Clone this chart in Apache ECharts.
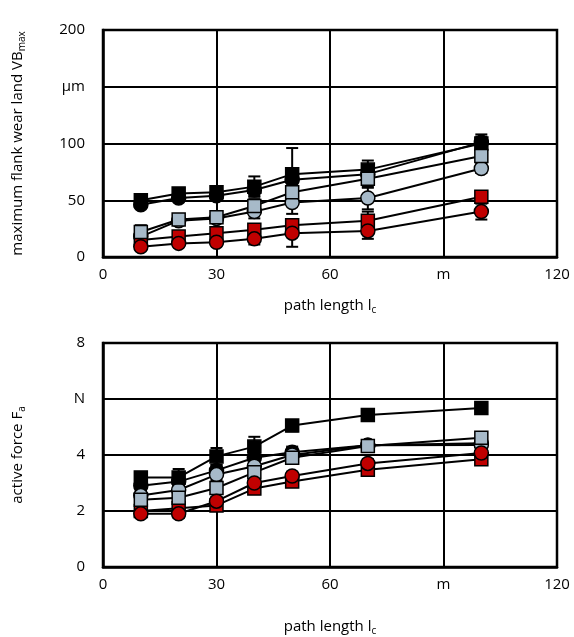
<!DOCTYPE html>
<html>
<head>
<meta charset="utf-8">
<script src="https://cdn.jsdelivr.net/npm/echarts@6/dist/echarts.min.js"></script>
<style>
  html, body { margin: 0; padding: 0; background: #fff; }
  #chart { width: 574px; height: 637px; }
</style>
</head>
<body>
<div id="chart"></div>
<script>
  // path length in m
  var pathLength = [10, 20, 30, 40, 50, 70, 100]

  // top: maximum flank wear land VBmax in µm
  var vbBlackSq = [50, 56, 57, 62, 73, 77, 100]
  var vbBlackCi = [46, 52, 54, 59, 68, 73, 101]
  var vbGraySq = [22, 33, 35, 45, 57, 69, 89]
  var vbGrayCi = [18, 32, 34, 40, 48, 52, 78]
  var vbRedSq = [15, 18, 21, 24, 28, 32, 53]
  var vbRedCi = [9, 12, 13, 16, 21, 23, 40]

  var vbBlackSqErr = [3, 4, 4, 9, 23, 8, 6]
  var vbBlackCiErr = [3, 3, 3, 5, 10, 5, 7]
  var vbGraySqErr = [6, 3, 4, 6, 8, 8, 4]
  var vbGrayCiErr = [3, 3, 4, 6, 10, 10, 4]
  var vbRedSqErr = [3, 3, 3, 3, 4, 8, 4]
  var vbRedCiErr = [3, 3, 3, 5, 12, 7, 7]

  // bottom: active force Fa in N
  var faBlackSq = [3.2, 3.2, 3.95, 4.3, 5.05, 5.43, 5.68]
  var faBlackCi = [2.9, 3.05, 3.45, 3.9, 4.1, 4.35, 4.42]
  var faGraySq = [2.4, 2.47, 2.82, 3.38, 3.9, 4.32, 4.62]
  var faGrayCi = [2.55, 2.75, 3.3, 3.6, 4.0, 4.35, 4.36]
  var faRedSq = [2.0, 2.1, 2.2, 2.8, 3.05, 3.47, 3.85]
  var faRedCi = [1.9, 1.9, 2.35, 3.0, 3.25, 3.7, 4.07]

  var faBlackSqErr = [0.15, 0.3, 0.3, 0.35, 0.2, 0.2, 0.15]
  var faBlackCiErr = [0.15, 0.15, 0.2, 0.2, 0.2, 0.15, 0.15]
  var faGraySqErr = [0.15, 0.15, 0.2, 0.2, 0.2, 0.15, 0.15]
  var faGrayCiErr = [0.15, 0.15, 0.2, 0.2, 0.25, 0.15, 0.15]
  var faRedSqErr = [0.12, 0.12, 0.15, 0.15, 0.15, 0.15, 0.12]
  var faRedCiErr = [0.12, 0.15, 0.15, 0.15, 0.15, 0.15, 0.12]

  // tick labels (one tick shows the unit)
  var xTickLabels = { 0: '0', 30: '30', 60: '60', 90: 'm', 120: '120' }
  var vbTickLabels = { 0: '0', 50: '50', 100: '100', 150: 'µm', 200: '200' }
  var faTickLabels = { 0: '0', 2: '2', 4: '4', 6: 'N', 8: '8' }

  var FONT = 'Open Sans'
  var GRAY = '#a7bac9'
  var RED = '#c00000'

  var chart = echarts.init(document.getElementById('chart'), null, { renderer: 'canvas' })

  function pairs(ys) {
    return pathLength.map(function (x, i) { return [x, ys[i]] })
  }

  function errorSeries(ys, errs, idx) {
    return {
      type: 'custom',
      xAxisIndex: idx,
      yAxisIndex: idx,
      silent: true,
      z: 1,
      data: pathLength.map(function (x, i) { return [x, ys[i] - errs[i], ys[i] + errs[i]] }),
      renderItem: function (params, api) {
        var lo = api.coord([api.value(0), api.value(1)])
        var hi = api.coord([api.value(0), api.value(2)])
        var w = 6
        var st = { stroke: '#000', lineWidth: 2 }
        return {
          type: 'group',
          children: [
            { type: 'line', shape: { x1: lo[0], y1: lo[1], x2: hi[0], y2: hi[1] }, style: st },
            { type: 'line', shape: { x1: lo[0] - w, y1: lo[1], x2: lo[0] + w, y2: lo[1] }, style: st },
            { type: 'line', shape: { x1: hi[0] - w, y1: hi[1], x2: hi[0] + w, y2: hi[1] }, style: st }
          ]
        }
      }
    }
  }

  function lineSeries(ys, symbol, color, idx) {
    return {
      type: 'line',
      xAxisIndex: idx,
      yAxisIndex: idx,
      data: pairs(ys),
      symbol: symbol === 'square' ? 'rect' : 'circle',
      symbolSize: symbol === 'square' ? 13 : 14,
      z: 3,
      lineStyle: { color: '#000', width: 2 },
      itemStyle: { color: color, borderColor: '#000', borderWidth: 1.5 },
      animation: false
    }
  }

  var nameRich = {
    a: { fontFamily: FONT, fontSize: 15, color: '#000' },
    s: { fontFamily: FONT, fontSize: 10, color: '#000', verticalAlign: 'bottom', padding: [9, 0, 0, 0] }
  }

  function xAxis(idx, gap) {
    return {
      type: 'value',
      gridIndex: idx,
      min: 0, max: 120, interval: 30,
      name: '{a|path length l}{s|c}',
      nameLocation: 'middle',
      nameGap: gap,
      nameTextStyle: { rich: nameRich },
      axisLine: { show: true, lineStyle: { color: '#000', width: 2.5 } },
      axisTick: { show: false },
      splitLine: { show: true, lineStyle: { color: '#000', width: 2 } },
      axisLabel: {
        fontFamily: FONT, fontSize: 15, color: '#000', margin: 10,
        formatter: function (v) { return xTickLabels[v] }
      }
    }
  }

  function yAxis(idx, max, interval, labels, name, sub, gap) {
    return {
      type: 'value',
      gridIndex: idx,
      min: 0, max: max, interval: interval,
      name: '{a|' + name + '}{s|' + sub + '}',
      nameLocation: 'middle',
      nameGap: gap,
      nameRotate: 90,
      nameTextStyle: { rich: nameRich },
      axisLine: { show: true, lineStyle: { color: '#000', width: 2.5 } },
      axisTick: { show: false },
      splitLine: { show: true, lineStyle: { color: '#000', width: 2 } },
      axisLabel: {
        fontFamily: FONT, fontSize: 15, color: '#000', margin: 18,
        formatter: function (v) { return labels[v] }
      }
    }
  }

  var option = {
    animation: false,
    backgroundColor: '#fff',
    grid: [
      { left: 103, top: 30, width: 454, height: 227, show: true, borderColor: '#000', borderWidth: 2.5 },
      { left: 103, top: 343, width: 454, height: 224, show: true, borderColor: '#000', borderWidth: 2.5 }
    ],
    xAxis: [xAxis(0, 39), xAxis(1, 50)],
    yAxis: [
      yAxis(0, 200, 50, vbTickLabels, 'maximum flank wear land VB', 'max', 76),
      yAxis(1, 8, 2, faTickLabels, 'active force F', 'a', 76)
    ],
    series: [
      errorSeries(vbBlackSq, vbBlackSqErr, 0),
      errorSeries(vbBlackCi, vbBlackCiErr, 0),
      errorSeries(vbGraySq, vbGraySqErr, 0),
      errorSeries(vbGrayCi, vbGrayCiErr, 0),
      errorSeries(vbRedSq, vbRedSqErr, 0),
      errorSeries(vbRedCi, vbRedCiErr, 0),
      lineSeries(vbGrayCi, 'circle', GRAY, 0),
      lineSeries(vbRedSq, 'square', RED, 0),
      lineSeries(vbBlackSq, 'square', '#000', 0),
      lineSeries(vbBlackCi, 'circle', '#000', 0),
      lineSeries(vbGraySq, 'square', GRAY, 0),
      lineSeries(vbRedCi, 'circle', RED, 0),

      errorSeries(faBlackSq, faBlackSqErr, 1),
      errorSeries(faBlackCi, faBlackCiErr, 1),
      errorSeries(faGraySq, faGraySqErr, 1),
      errorSeries(faGrayCi, faGrayCiErr, 1),
      errorSeries(faRedSq, faRedSqErr, 1),
      errorSeries(faRedCi, faRedCiErr, 1),
      lineSeries(faBlackCi, 'circle', '#000', 1),
      lineSeries(faGrayCi, 'circle', GRAY, 1),
      lineSeries(faRedSq, 'square', RED, 1),
      lineSeries(faBlackSq, 'square', '#000', 1),
      lineSeries(faGraySq, 'square', GRAY, 1),
      lineSeries(faRedCi, 'circle', RED, 1)
    ]
  }

  chart.setOption(option)
</script>
</body>
</html>
